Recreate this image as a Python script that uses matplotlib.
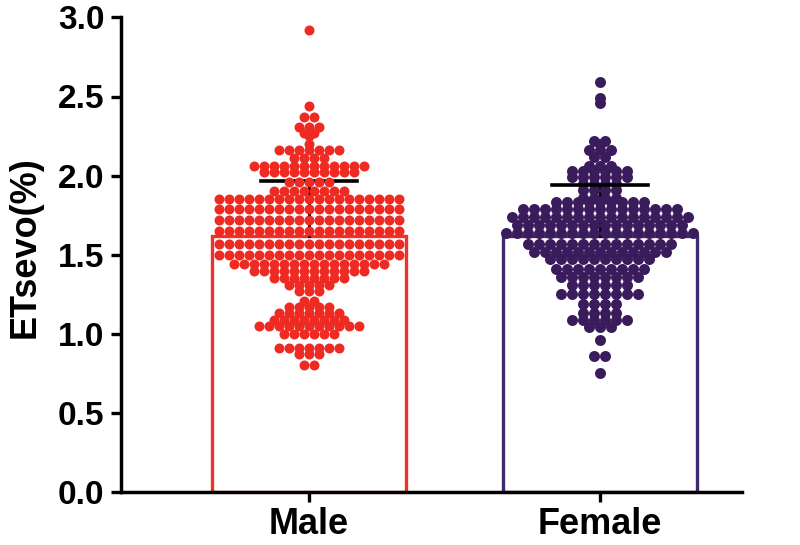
import numpy as np
import matplotlib
matplotlib.use('Agg')
import matplotlib.pyplot as plt

# ------------------------------------------
# values (row level, number of dots in the row)
# ------------------------------------------
groups = ['Male', 'Female']

male_levels = [2.92, 2.44, 2.37, 2.31, 2.27, 2.25, 2.20, 2.16, 2.11, 2.06, 2.02,
               1.96, 1.90, 1.85, 1.79, 1.72, 1.65, 1.57, 1.50, 1.44, 1.40, 1.35,
               1.31, 1.27, 1.21, 1.17, 1.13, 1.09, 1.05, 1.00, 0.91, 0.87, 0.80]
male_counts = [1, 1, 2, 3, 2, 1, 1, 7, 4, 12, 10,
               5, 8, 19, 19, 19, 19, 19, 19, 16, 12, 8,
               5, 3, 2, 5, 7, 8, 11, 6, 7, 3, 2]

female_levels = [2.59, 2.49, 2.46, 2.22, 2.20, 2.16, 2.12, 2.06, 2.03, 1.99, 1.95,
                 1.91, 1.86, 1.83, 1.79, 1.74, 1.69, 1.64, 1.57, 1.52, 1.47, 1.41,
                 1.36, 1.31, 1.25, 1.19, 1.13, 1.09, 1.04, 0.96, 0.86, 0.75]
female_counts = [1, 1, 1, 2, 1, 3, 2, 3, 6, 6, 4,
                 4, 4, 9, 15, 17, 16, 18, 14, 13, 10, 9,
                 8, 6, 8, 4, 4, 6, 3, 1, 2, 1]

bar_means = [1.62, 1.62]
bar_sd = [0.345, 0.32]

colors = ['#ee2a22', '#3a1c5c']
edge_colors = ['#f0302a', '#3e2a6c']

# pixel scale of the x axis (800x545 figure at dpi 100)
px_per_x = 291.0

plt.rcParams['font.family'] = ['Liberation Sans', 'DejaVu Sans']
plt.rcParams['font.weight'] = 'bold'

fig = plt.figure(figsize=(8, 5.45), dpi=100)
ax = fig.add_axes([121 / 800, 53 / 545, 621 / 800, 474.6 / 545])

pos = np.arange(len(groups))

ax.bar(pos, bar_means, width=0.667, facecolor='white', edgecolor=edge_colors,
       linewidth=2.4, zorder=1)

levels = [male_levels, female_levels]
counts = [male_counts, female_counts]
dot_px = [10.0, 11.0]
for k in range(len(groups)):
    # each row centred on the group, one dot width apart
    xs, ys = [], []
    for lv, n in zip(levels[k], counts[k]):
        off = (np.arange(n) - (n - 1) / 2.0) * dot_px[k]
        xs.extend(pos[k] + off / px_per_x)
        ys.extend([lv] * n)
    ax.plot(xs, ys, 'o', color=colors[k], markersize=dot_px[k] * 0.72,
            markeredgewidth=0, zorder=3)

# mean + SD (upper only)
for k in range(len(groups)):
    top = bar_means[k] + bar_sd[k]
    ax.plot([pos[k], pos[k]], [bar_means[k], top], color='black', lw=2.2, zorder=2)
    ax.plot([pos[k] - 0.165, pos[k] + 0.165], [top, top], color='black', lw=2.6,
            zorder=2 if k == 0 else 4)

ax.set_xlim(-0.646, 1.488)
ax.set_ylim(0, 3.0)
ax.set_yticks([0, 0.5, 1.0, 1.5, 2.0, 2.5, 3.0])
ax.set_yticklabels(['0.0', '0.5', '1.0', '1.5', '2.0', '2.5', '3.0'])
ax.set_xticks(pos)
ax.set_xticklabels(groups)

for s in ['top', 'right']:
    ax.spines[s].set_visible(False)
for s in ['left', 'bottom']:
    ax.spines[s].set_linewidth(2.5)

ax.tick_params(axis='y', length=7.5, width=2.4, pad=4.5, labelsize=24)
ax.tick_params(axis='x', length=7, width=2.4, pad=4, labelsize=26)
for t in ax.get_xticklabels() + ax.get_yticklabels():
    t.set_fontweight('bold')

ax.set_ylabel('ETsevo(%)', fontsize=26, fontweight='bold')
ax.yaxis.set_label_coords(-0.127, 0.515)

fig.savefig('out.png', dpi=100)
